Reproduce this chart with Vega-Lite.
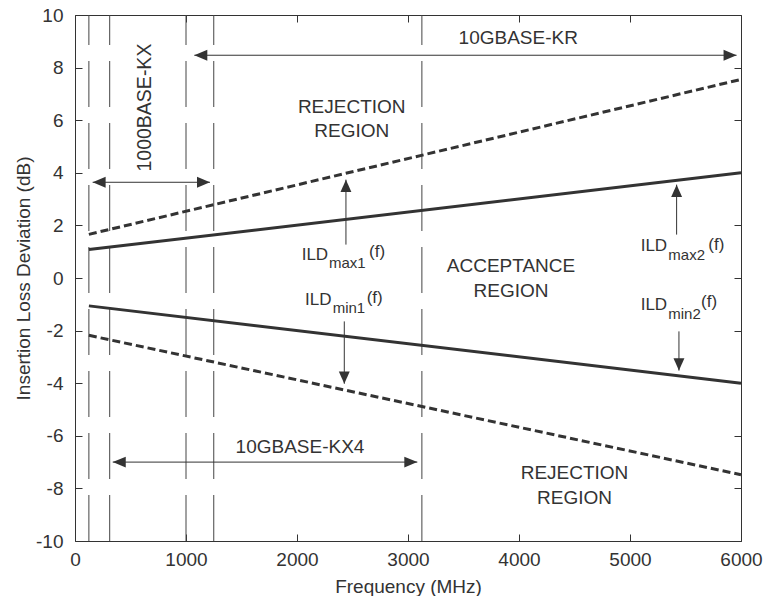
{
  "$schema": "https://vega.github.io/schema/vega-lite/v6.json",
  "width": 666,
  "height": 526,
  "autosize": {"type": "none"},
  "padding": {"left": 75, "top": 15, "right": 22, "bottom": 55},
  "background": "white",
  "datasets": {
    "solid": [
      {"f": 125, "v": 1.08, "curve": "max"},
      {"f": 6000, "v": 4.0, "curve": "max"},
      {"f": 125, "v": -1.06, "curve": "min"},
      {"f": 6000, "v": -4.0, "curve": "min"}
    ],
    "dashed": [
      {"f": 125, "v": 1.66, "curve": "max"},
      {"f": 6000, "v": 7.55, "curve": "max"},
      {"f": 125, "v": -2.18, "curve": "min"},
      {"f": 6000, "v": -7.48, "curve": "min"}
    ],
    "vlines": [{"f": 125}, {"f": 312.5}, {"f": 1000}, {"f": 1250}, {"f": 3125}],
    "harrows": [
      {"x1": 1075, "x2": 5960, "y": 8.47},
      {"x1": 159, "x2": 1216, "y": 3.64},
      {"x1": 340, "x2": 3084, "y": -7.0}
    ],
    "varrows": [
      {"x": 2441, "y1": 1.27, "y2": 3.74},
      {"x": 2426, "y1": -1.65, "y2": -4.02},
      {"x": 5420, "y1": 1.65, "y2": 3.55},
      {"x": 5441, "y1": -2.03, "y2": -3.52}
    ],
    "heads": [
      {"x": 1075, "y": 8.47, "dir": "left"},
      {"x": 5960, "y": 8.47, "dir": "right"},
      {"x": 159, "y": 3.64, "dir": "left"},
      {"x": 1216, "y": 3.64, "dir": "right"},
      {"x": 340, "y": -7.0, "dir": "left"},
      {"x": 3084, "y": -7.0, "dir": "right"},
      {"x": 2441, "y": 3.74, "dir": "up"},
      {"x": 2426, "y": -4.02, "dir": "down"},
      {"x": 5420, "y": 3.55, "dir": "up"},
      {"x": 5441, "y": -3.52, "dir": "down"}
    ],
    "labels": [
      {"x": 3993, "y": 9.13, "t": "10GBASE-KR"},
      {"x": 2027, "y": -6.41, "t": "10GBASE-KX4"},
      {"x": 2493, "y": 6.52, "t": "REJECTION"},
      {"x": 2493, "y": 5.58, "t": "REGION"},
      {"x": 3928, "y": 0.47, "t": "ACCEPTANCE"},
      {"x": 3928, "y": -0.48, "t": "REGION"},
      {"x": 4500, "y": -7.41, "t": "REJECTION"},
      {"x": 4500, "y": -8.35, "t": "REGION"}
    ],
    "rotlabels": [{"x": 630, "y": 6.48, "t": "1000BASE-KX"}],
    "ild": [
      {"x": 2042, "y": 0.697, "t": "ILD"},
      {"x": 2072, "y": -1.02, "t": "ILD"},
      {"x": 5096, "y": 1.01, "t": "ILD"},
      {"x": 5096, "y": -1.21, "t": "ILD"}
    ],
    "subs": [
      {"x": 2288, "y": 0.39, "t": "max1"},
      {"x": 2321, "y": -1.33, "t": "min1"},
      {"x": 5345, "y": 0.695, "t": "max2"},
      {"x": 5345, "y": -1.56, "t": "min2"}
    ],
    "fs": [
      {"x": 2649, "y": 0.81, "t": "(f)"},
      {"x": 2628, "y": -0.94, "t": "(f)"},
      {"x": 5705, "y": 1.06, "t": "(f)"},
      {"x": 5640, "y": -1.10, "t": "(f)"}
    ]
  },
  "resolve": {"axis": {"x": "independent", "y": "independent"}},
  "layer": [
    {
      "data": {"name": "vlines"},
      "mark": {"type": "rule", "color": "#444", "strokeWidth": 1, "strokeDash": [46, 16]},
      "encoding": {
        "x": {"field": "f", "type": "quantitative", "scale": {"domain": [0, 6000], "nice": false, "zero": false}, "axis": null},
        "y": {"datum": -10, "type": "quantitative", "scale": {"domain": [-10, 10], "nice": false}, "axis": null},
        "y2": {"datum": 10}
      }
    },
    {
      "data": {"name": "solid"},
      "mark": {"type": "line", "color": "#333", "strokeWidth": 3},
      "encoding": {
        "x": {"field": "f", "type": "quantitative", "scale": {"domain": [0, 6000], "nice": false, "zero": false},
          "axis": {"orient": "bottom", "values": [0, 1000, 2000, 3000, 4000, 5000, 6000], "labelExpr": "'' + datum.value",
            "title": "Frequency (MHz)", "titleX": 333, "titleY": 51, "titleBaseline": "alphabetic", "titleAlign": "center",
            "labelPadding": 16, "labelBaseline": "top"}},
        "y": {"field": "v", "type": "quantitative", "scale": {"domain": [-10, 10], "nice": false},
          "axis": {"orient": "left", "values": [-10, -8, -6, -4, -2, 0, 2, 4, 6, 8, 10], "labelExpr": "'' + datum.value",
            "title": "Insertion Loss Deviation (dB)", "titleX": -46, "titleY": 263, "titleAngle": 270, "titleBaseline": "alphabetic", "titleAlign": "center",
            "labelPadding": 19, "labelBaseline": "middle"}},
        "detail": {"field": "curve"}
      }
    },
    {
      "data": {"name": "dashed"},
      "mark": {"type": "line", "color": "#333", "strokeWidth": 3, "strokeDash": [8, 4]},
      "encoding": {
        "x": {"field": "f", "type": "quantitative",
          "axis": {"orient": "top", "values": [0, 1000, 2000, 3000, 4000, 5000, 6000], "labels": false, "title": null}},
        "y": {"field": "v", "type": "quantitative",
          "axis": {"orient": "right", "values": [-10, -8, -6, -4, -2, 0, 2, 4, 6, 8, 10], "labels": false, "title": null}},
        "detail": {"field": "curve"}
      }
    },
    {
      "data": {"name": "harrows"},
      "mark": {"type": "rule", "color": "#333", "strokeWidth": 1},
      "encoding": {
        "x": {"field": "x1", "type": "quantitative", "axis": null},
        "x2": {"field": "x2"},
        "y": {"field": "y", "type": "quantitative", "axis": null}
      }
    },
    {
      "data": {"name": "varrows"},
      "mark": {"type": "rule", "color": "#333", "strokeWidth": 1},
      "encoding": {
        "x": {"field": "x", "type": "quantitative", "axis": null},
        "y": {"field": "y1", "type": "quantitative", "axis": null},
        "y2": {"field": "y2"}
      }
    },
    {
      "data": {"name": "heads"},
      "mark": {"type": "point", "filled": true, "color": "#333", "opacity": 1, "size": 676, "strokeWidth": 0},
      "encoding": {
        "x": {"field": "x", "type": "quantitative", "axis": null},
        "y": {"field": "y", "type": "quantitative", "axis": null},
        "shape": {"field": "dir", "type": "nominal", "legend": null,
          "scale": {"domain": ["left", "right", "up", "down"],
            "range": ["M0,0L1,-0.42L1,0.42Z", "M0,0L-1,-0.42L-1,0.42Z", "M0,0L-0.42,0.95L0.42,0.95Z", "M0,0L-0.42,-0.95L0.42,-0.95Z"]}}
      }
    },
    {
      "data": {"name": "labels"},
      "mark": {"type": "text", "font": "Liberation Sans", "fontSize": 19, "color": "#333", "align": "center", "baseline": "middle"},
      "encoding": {
        "x": {"field": "x", "type": "quantitative", "axis": null},
        "y": {"field": "y", "type": "quantitative", "axis": null},
        "text": {"field": "t"}
      }
    },
    {
      "data": {"name": "rotlabels"},
      "mark": {"type": "text", "font": "Liberation Sans", "fontSize": 19.5, "color": "#333", "align": "center", "baseline": "middle", "angle": 270},
      "encoding": {
        "x": {"field": "x", "type": "quantitative", "axis": null},
        "y": {"field": "y", "type": "quantitative", "axis": null},
        "text": {"field": "t"}
      }
    },
    {
      "data": {"name": "ild"},
      "mark": {"type": "text", "font": "Liberation Sans", "fontSize": 17, "color": "#333", "align": "left", "baseline": "alphabetic"},
      "encoding": {
        "x": {"field": "x", "type": "quantitative", "axis": null},
        "y": {"field": "y", "type": "quantitative", "axis": null},
        "text": {"field": "t"}
      }
    },
    {
      "data": {"name": "subs"},
      "mark": {"type": "text", "font": "Liberation Sans", "fontSize": 15, "color": "#333", "align": "left", "baseline": "alphabetic"},
      "encoding": {
        "x": {"field": "x", "type": "quantitative", "axis": null},
        "y": {"field": "y", "type": "quantitative", "axis": null},
        "text": {"field": "t"}
      }
    },
    {
      "data": {"name": "fs"},
      "mark": {"type": "text", "font": "Liberation Sans", "fontSize": 17, "color": "#333", "align": "left", "baseline": "alphabetic"},
      "encoding": {
        "x": {"field": "x", "type": "quantitative", "axis": null},
        "y": {"field": "y", "type": "quantitative", "axis": null},
        "text": {"field": "t"}
      }
    }
  ],
  "config": {
    "view": {"stroke": null},
    "axis": {
      "labelFont": "Liberation Sans", "labelFontSize": 19, "labelColor": "#333",
      "titleFont": "Liberation Sans", "titleFontSize": 19, "titleFontWeight": "normal", "titleColor": "#333",
      "domainColor": "#333", "domainWidth": 1, "tickColor": "#333", "tickWidth": 1, "tickSize": -7,
      "grid": false, "labelFlush": false, "labelOverlap": false
    }
  }
}
